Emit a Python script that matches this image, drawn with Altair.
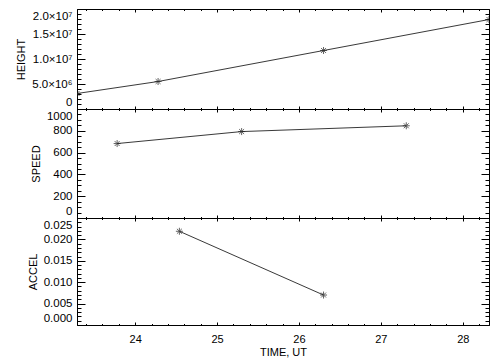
import altair as alt
import pandas as pd

# ---- data ----
HEIGHT_TIME = [23.29, 24.28, 26.30, 28.32]
HEIGHT = [3.1e6, 5.5e6, 11.7e6, 17.9e6]

SPEED_TIME = [23.78, 25.30, 27.31]
SPEED = [683, 793, 846]

ACCEL_TIME = [24.54, 26.30]
ACCEL = [0.0219, 0.0070]

X_MAJOR = [24, 25, 26, 27, 28]
X_MINOR = [round(23.4 + 0.2 * i, 1) for i in range(25)]

HEIGHT_TICKS = [0, 5e6, 1e7, 1.5e7, 2e7]
HEIGHT_LABELS = ["0", "5.0×10⁶", "1.0×10⁷", "1.5×10⁷", "2.0×10⁷"]
HEIGHT_MINOR = [i * 1e6 for i in range(21)]

SPEED_TICKS = [0, 200, 400, 600, 800, 1000]
SPEED_MINOR = [i * 50 for i in range(21)]

ACCEL_TICKS = [0.0, 0.005, 0.010, 0.015, 0.020, 0.025]
ACCEL_MINOR = [round(i * 0.001, 3) for i in range(26)]

XDOM = [min(HEIGHT_TIME), max(HEIGHT_TIME)]
W = 412
FONT = "Liberation Sans"
XMAJ, XMIN = 3, 1.5
YMAJ, YMIN = 8, 4

ASTERISK = "M-1,0L1,0M0,-1L0,1M-0.7,-0.7L0.7,0.7M-0.7,0.7L0.7,-0.7"


def panel(times, vals, ydom, H, ymaj, ymin, title, label_expr=None, fmt=None, show_x=False):
    df = pd.DataFrame({"t": times, "v": vals})
    xscale = alt.Scale(domain=XDOM, nice=False, zero=False)
    yscale = alt.Scale(domain=ydom, nice=False, zero=False)
    common = dict(domain=False, ticks=False, gridColor="black", gridOpacity=1,
                  gridWidth=1, labelFont=FONT, labelColor="black",
                  titleFont=FONT, titleFontSize=11, titleFontWeight="normal",
                  titleColor="black")
    xaxis_kw = dict(values=X_MAJOR, grid=True, gridDash=[XMAJ, H - 2 * XMAJ],
                    orient="bottom", labels=show_x, format="d", labelPadding=8,
                    labelFontSize=11, titlePadding=2, **common)
    if show_x:
        xaxis_kw["title"] = "TIME, UT"
    else:
        xaxis_kw["title"] = None
    yaxis_kw = dict(values=ymaj, grid=True, gridDash=[YMAJ, W - 2 * YMAJ],
                    orient="left", labelFlush=True, labelFlushOffset=-1.5,
                    labelPadding=5, titlePadding=5,
                    labelFontSize=11.5, title=title, **common)
    if label_expr:
        yaxis_kw["labelExpr"] = label_expr
    if fmt:
        yaxis_kw["format"] = fmt
    line = alt.Chart(df).mark_line(color="#222222", strokeWidth=0.9, clip=True).encode(
        x=alt.X("t:Q", scale=xscale, axis=alt.Axis(**xaxis_kw)),
        y=alt.Y("v:Q", scale=yscale, axis=alt.Axis(**yaxis_kw)),
    )
    minor_common = dict(domain=False, ticks=False, labels=False, title=None,
                        gridColor="black", gridOpacity=1, gridWidth=1, grid=True)
    pts = alt.Chart(df).mark_point(shape=ASTERISK, size=49, filled=False,
                                   color="#222222", strokeWidth=1, clip=True).encode(
        x=alt.X("t:Q", scale=xscale,
                axis=alt.Axis(values=X_MINOR, gridDash=[XMIN, H - 2 * XMIN],
                              orient="top", **minor_common)),
        y=alt.Y("v:Q", scale=yscale,
                axis=alt.Axis(values=ymin, gridDash=[YMIN, W - 2 * YMIN],
                              orient="right", **minor_common)),
    )
    return (alt.layer(line, pts)
            .resolve_scale(x="independent", y="independent")
            .resolve_axis(x="independent", y="independent")
            .properties(width=W, height=H))


def js_list(items):
    return "[" + ",".join(repr(i) if isinstance(i, str) else str(i) for i in items) + "]"


height_expr = (js_list(HEIGHT_LABELS) + "[indexof(" +
               js_list([int(v) for v in HEIGHT_TICKS]) + ", datum.value)]")

top = panel(HEIGHT_TIME, HEIGHT, [0, 2e7], 100, HEIGHT_TICKS, HEIGHT_MINOR,
            "HEIGHT", label_expr=height_expr)
mid = panel(SPEED_TIME, SPEED, [0, 1000], 109, SPEED_TICKS, SPEED_MINOR,
            "SPEED", fmt="d")
bot = panel(ACCEL_TIME, ACCEL, [0, 0.025], 107, ACCEL_TICKS, ACCEL_MINOR,
            "ACCEL", fmt=".3f", show_x=True)

chart = (alt.vconcat(top, mid, bot, spacing=0, bounds="flush")
         .properties(padding={"left": 7, "top": 0, "right": 0, "bottom": 0},
                     background="white")
         .configure_view(stroke="black", strokeWidth=1))

chart.save("out.html", embed_options={"renderer": "svg", "actions": False})
